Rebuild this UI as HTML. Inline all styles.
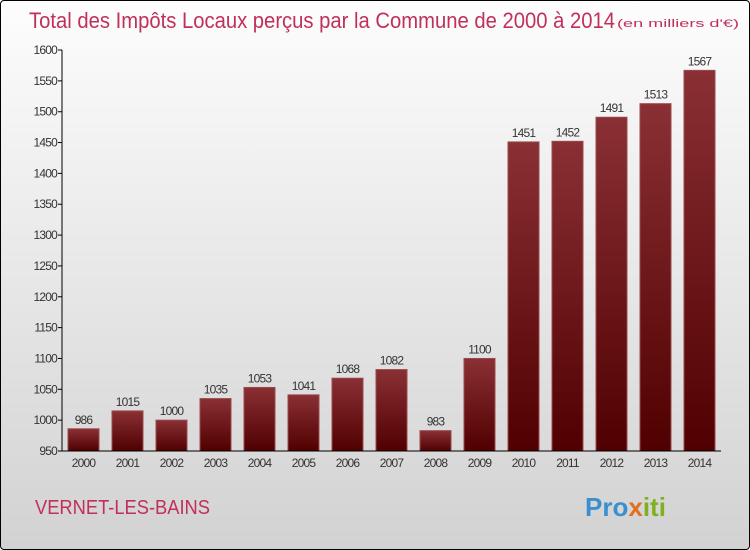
<!DOCTYPE html>
<html><head><meta charset="utf-8"><style>
body{margin:0;}
#wrap{position:relative;width:748px;height:548px;border:1px solid #000;border-radius:4px;background:linear-gradient(#fdfdfd,#d2d2d2);overflow:hidden;font-family:"Liberation Sans",sans-serif;}
</style></head><body>
<div id="wrap">
<svg id="chart" width="748" height="548">
<defs><linearGradient id="bg" x1="0" y1="0" x2="0" y2="1"><stop offset="0" stop-color="#8a3034"/><stop offset="1" stop-color="#500000"/></linearGradient></defs>
<text x="28" y="27" font-size="22" fill="#c0305a" textLength="586" lengthAdjust="spacingAndGlyphs">Total des Impôts Locaux perçus par la Commune de 2000 à 2014</text>
<text x="616" y="26" font-size="11" fill="#c0305a" textLength="122" lengthAdjust="spacingAndGlyphs">(en milliers d'€)</text>
<text x="34" y="513" font-size="20" fill="#c0305a" textLength="175" lengthAdjust="spacingAndGlyphs">VERNET-LES-BAINS</text>
<text x="584" y="515" font-size="26" font-weight="bold" fill="#3a8fd0">Pro<tspan fill="#e07020">x</tspan><tspan fill="#80b020">iti</tspan></text>
<g id="plot"></g>
</svg>
</div>
<script>
const years=["2000","2001","2002","2003","2004","2005","2006","2007","2008","2009","2010","2011","2012","2013","2014"];
const values=[986,1015,1000,1035,1053,1041,1068,1082,983,1100,1451,1452,1491,1513,1567];
const ticks=[950,1000,1050,1100,1150,1200,1250,1300,1350,1400,1450,1500,1550,1600];
const NS="http://www.w3.org/2000/svg";
const g=document.getElementById('plot');
function y(v){return 450-(v-950)*401/650;}
function x(i){return 82.5+i*44;}
function mk(t,a){const e=document.createElementNS(NS,t);for(const k in a)e.setAttribute(k,a[k]);g.appendChild(e);return e;}
ticks.forEach(t=>{
 const l=mk('line',{x1:57,x2:61,y1:y(t),y2:y(t),stroke:'#000'});
 
 
 const tx=mk('text',{x:56,y:y(t)+4,'font-size':12,'text-anchor':'end',fill:'#333','letter-spacing':'-0.8'});
 tx.textContent=t;
 
 
});
values.forEach((v,i)=>{
 const r=mk('rect',{x:x(i)-15.5,y:y(v),width:31,height:450-y(v),fill:'url(#bg)',stroke:'#9a4a4e','stroke-width':1});
 
 
 const t=mk('text',{x:x(i),y:y(v)-5,'font-size':12,'text-anchor':'middle',fill:'#333','letter-spacing':'-0.8'});
 t.textContent=v;
 
 
 const xl=mk('text',{x:x(i),y:466,'font-size':12,'text-anchor':'middle',fill:'#333','letter-spacing':'-0.8'});
 xl.textContent=years[i];
 
 
});
const ya=mk('line',{x1:61,x2:61,y1:y(1600),y2:450,stroke:'#000'});


const xa=mk('line',{x1:61,x2:720,y1:450,y2:450,stroke:'#000'});


</script>
</body></html>
